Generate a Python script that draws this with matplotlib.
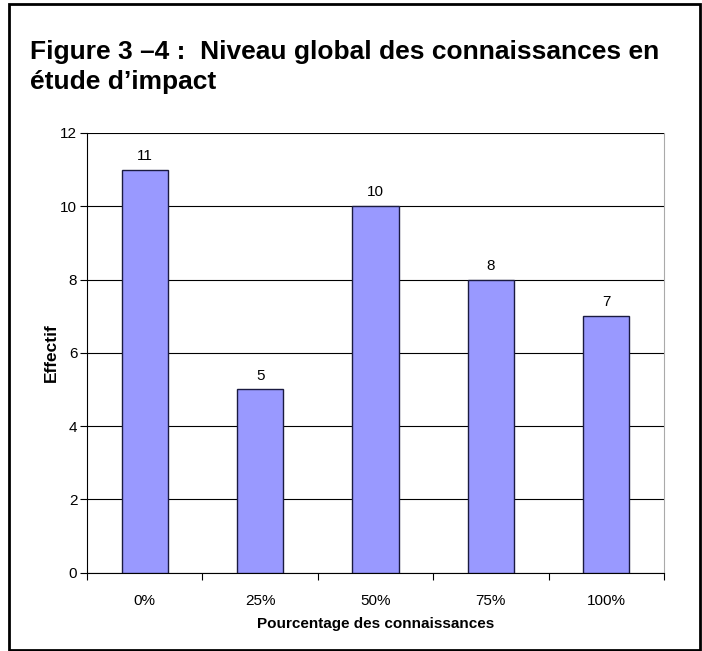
import matplotlib.pyplot as plt
from matplotlib.patches import Rectangle

plt.rcParams['font.family'] = ['Liberation Sans', 'DejaVu Sans']

# Data
categories = ['0%', '25%', '50%', '75%', '100%']
effectifs = [11, 5, 10, 8, 7]
yticks = [0, 2, 4, 6, 8, 10, 12]

fig = plt.figure(figsize=(7.02, 6.51), dpi=100)
W, H = 702, 651

# Frame around the whole figure
fig.patches.append(Rectangle((9 / W, 1 / H), 691 / W, 646 / H, transform=fig.transFigure,
                             fill=False, edgecolor='black', linewidth=2))

# Title, two lines
fig.text(30 / W, 1 - 59 / H, 'Figure 3 \u20134 :  Niveau global des connaissances en',
         fontsize=19, fontweight='bold', ha='left', va='baseline')
fig.text(30 / W, 1 - 89 / H, '\u00e9tude d\u2019impact',
         fontsize=19, fontweight='bold', ha='left', va='baseline')

ax = fig.add_axes([87 / W, 1 - 572.7 / H, 577 / W, (572.7 - 133) / H])

x = list(range(len(categories)))
bars = ax.bar(x, effectifs, width=0.4, color='#9999ff', edgecolor='#1a1a40', linewidth=1, zorder=3)

for xi, v in zip(x, effectifs):
    ax.annotate(str(v), (xi, v), xytext=(0, 5), textcoords='offset points',
                ha='center', va='bottom', fontsize=11)

ax.set_xlim(-0.5, len(categories) - 0.5)
ax.set_ylim(0, 12)
ax.set_yticks(yticks)
ax.yaxis.grid(True, color='black', linewidth=0.8, zorder=0)
ax.set_axisbelow(True)

ax.set_xticks(x)
ax.set_xticklabels(categories, fontsize=11)
ax.tick_params(axis='x', which='major', length=0, pad=15)
ax.set_xticks([i - 0.5 for i in range(len(categories) + 1)], minor=True)
ax.tick_params(axis='x', which='minor', length=5, direction='out', width=0.8)
ax.tick_params(axis='y', length=5, direction='out', width=0.8, labelsize=11, pad=2)

ax.spines['top'].set_visible(False)
ax.spines['right'].set_color('#aaaaaa')
ax.spines['left'].set_linewidth(0.8)
ax.spines['bottom'].set_linewidth(0.8)

ax.set_xlabel('Pourcentage des connaissances', fontsize=11, fontweight='bold', labelpad=7)
ax.set_ylabel('Effectif', fontsize=12.5, fontweight='bold', labelpad=1)

fig.savefig('out.png', dpi=100)
